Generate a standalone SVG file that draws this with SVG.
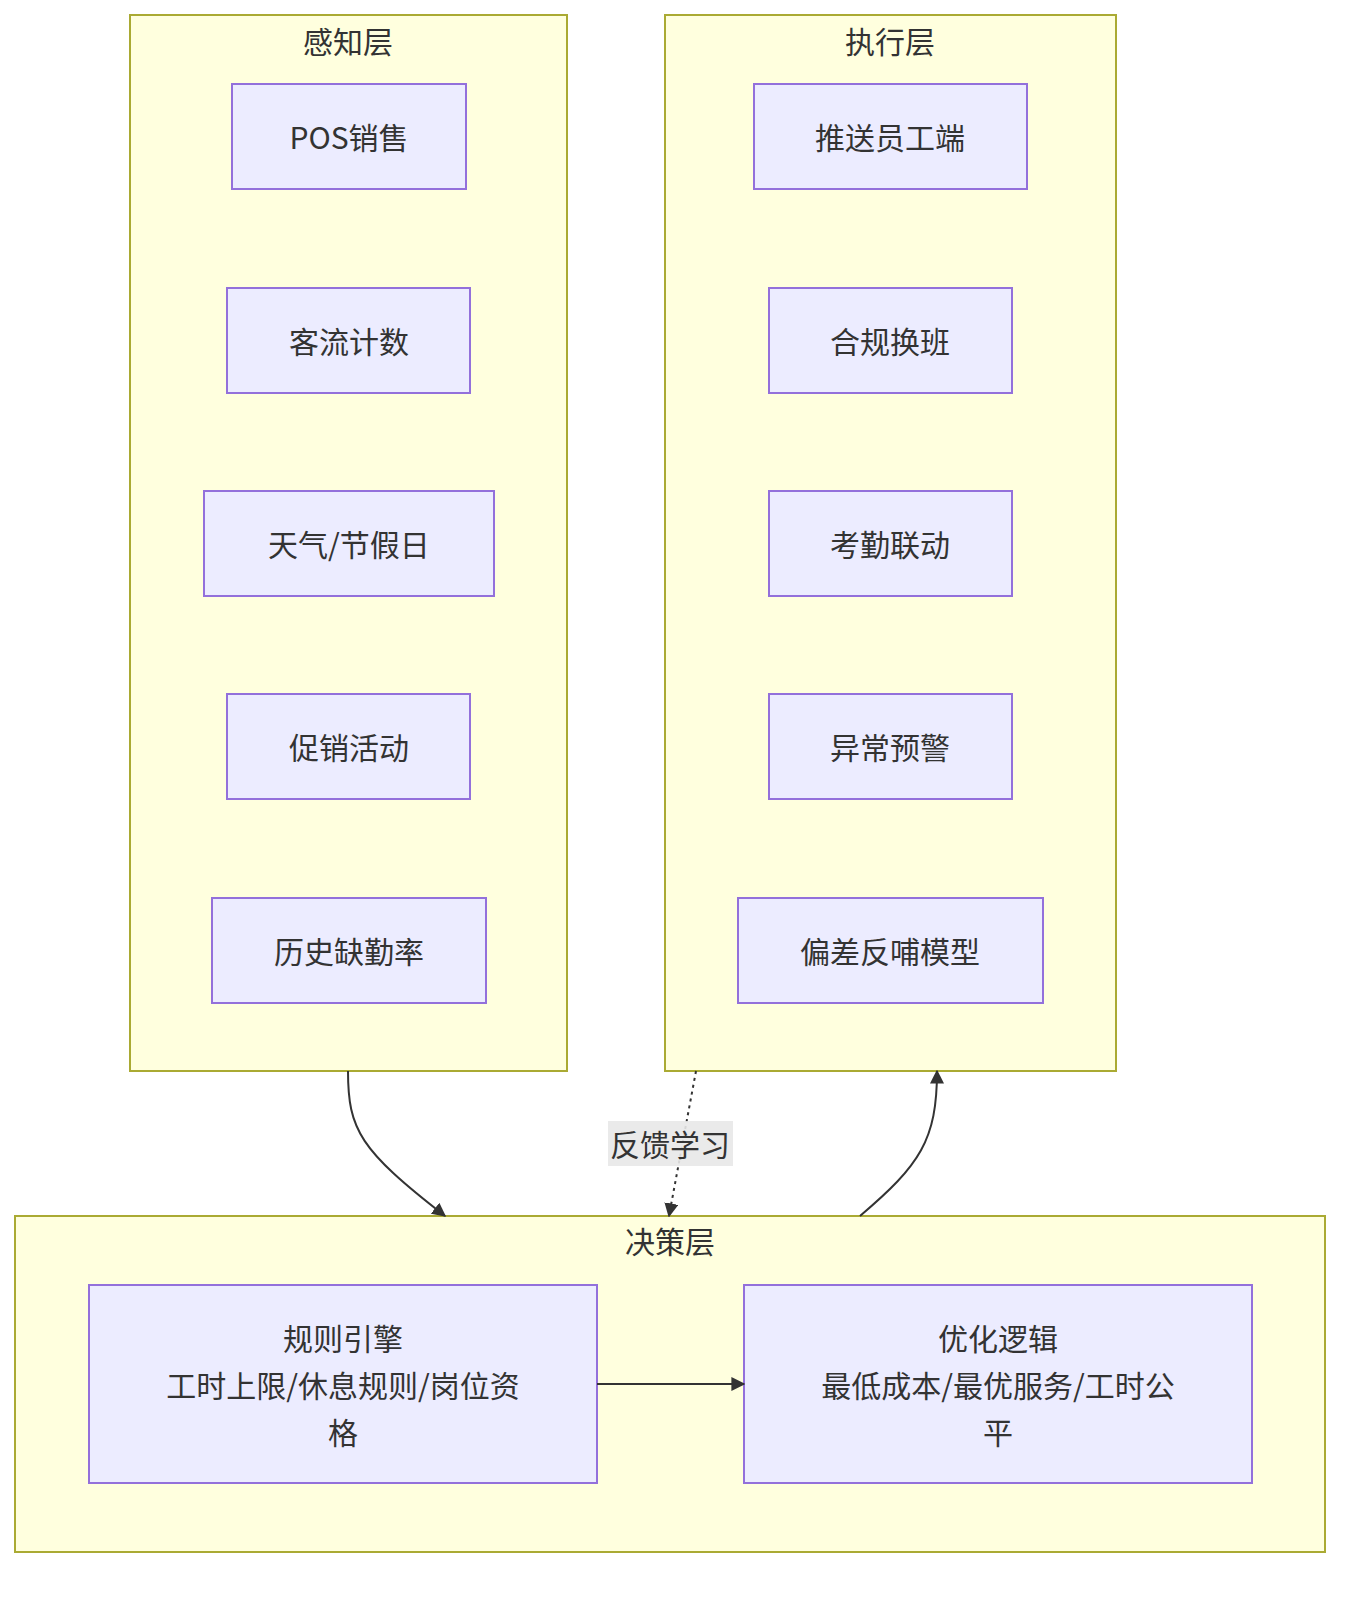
<svg xmlns="http://www.w3.org/2000/svg" width="1372" height="1604" viewBox="0 0 1372 1604">
<style>
.c{fill:#ffffde;stroke:#aaaa33;stroke-width:2}
.n{fill:#ececff;stroke:#9370db;stroke-width:2}
text{font-family:"Noto Sans CJK SC","Liberation Sans",sans-serif;font-size:30px;fill:#333;text-anchor:middle;dominant-baseline:central}
.e{fill:none;stroke:#333;stroke-width:2}
</style>
<defs><marker id="b" viewBox="0 0 10 10" refX="9" refY="5" markerWidth="14" markerHeight="14" markerUnits="userSpaceOnUse" orient="auto"><path d="M0,0L10,5L0,10z" fill="#333"/></marker></defs>
<g id="perception"><rect class="c" x="130" y="15" width="437" height="1056"/><text x="348" y="40">感知层</text></g>
<g id="execution"><rect class="c" x="665" y="15" width="451" height="1056"/><text x="890" y="40">执行层</text></g>
<g id="decision"><rect class="c" x="15" y="1216" width="1310" height="336"/><text x="670" y="1240">决策层</text></g>
<g id="pos"><rect class="n" x="232" y="84" width="234" height="105"/><text x="349" y="136">POS销售</text></g>
<g id="flow"><rect class="n" x="227" y="288" width="243" height="105"/><text x="349" y="340">客流计数</text></g>
<g id="weather"><rect class="n" x="204" y="491" width="290" height="105"/><text x="349" y="543">天气/节假日</text></g>
<g id="promo"><rect class="n" x="227" y="694" width="243" height="105"/><text x="349" y="746">促销活动</text></g>
<g id="absence"><rect class="n" x="212" y="898" width="274" height="105"/><text x="349" y="950">历史缺勤率</text></g>
<g id="push"><rect class="n" x="754" y="84" width="273" height="105"/><text x="890" y="136">推送员工端</text></g>
<g id="swap"><rect class="n" x="769" y="288" width="243" height="105"/><text x="890" y="340">合规换班</text></g>
<g id="attend"><rect class="n" x="769" y="491" width="243" height="105"/><text x="890" y="543">考勤联动</text></g>
<g id="alert"><rect class="n" x="769" y="694" width="243" height="105"/><text x="890" y="746">异常预警</text></g>
<g id="feedback"><rect class="n" x="738" y="898" width="305" height="105"/><text x="890" y="950">偏差反哺模型</text></g>
<g id="rules"><rect class="n" x="89" y="1285" width="508" height="198"/><text x="343" y="1337">规则引擎</text><text x="343" y="1384">工时上限/休息规则/岗位资</text><text x="343" y="1431">格</text></g>
<g id="opt"><rect class="n" x="744" y="1285" width="508" height="198"/><text x="998" y="1337">优化逻辑</text><text x="998" y="1384">最低成本/最优服务/工时公</text><text x="998" y="1431">平</text></g>
<g id="edges">
<path class="e" d="M348,1071 C348,1130 360,1150 445,1216" marker-end="url(#b)"/>
<path class="e" d="M696,1071 L669,1216" stroke-dasharray="3,4" marker-end="url(#b)"/>
<path class="e" d="M860,1216 C920,1165 937,1140 937,1071" marker-end="url(#b)"/>
<path class="e" d="M597,1384 L744,1384" marker-end="url(#b)"/>
<rect x="608" y="1121" width="125" height="45" fill="#e8e8e8" opacity="0.9"/>
<text x="670" y="1143">反馈学习</text>
</g>
</svg>
